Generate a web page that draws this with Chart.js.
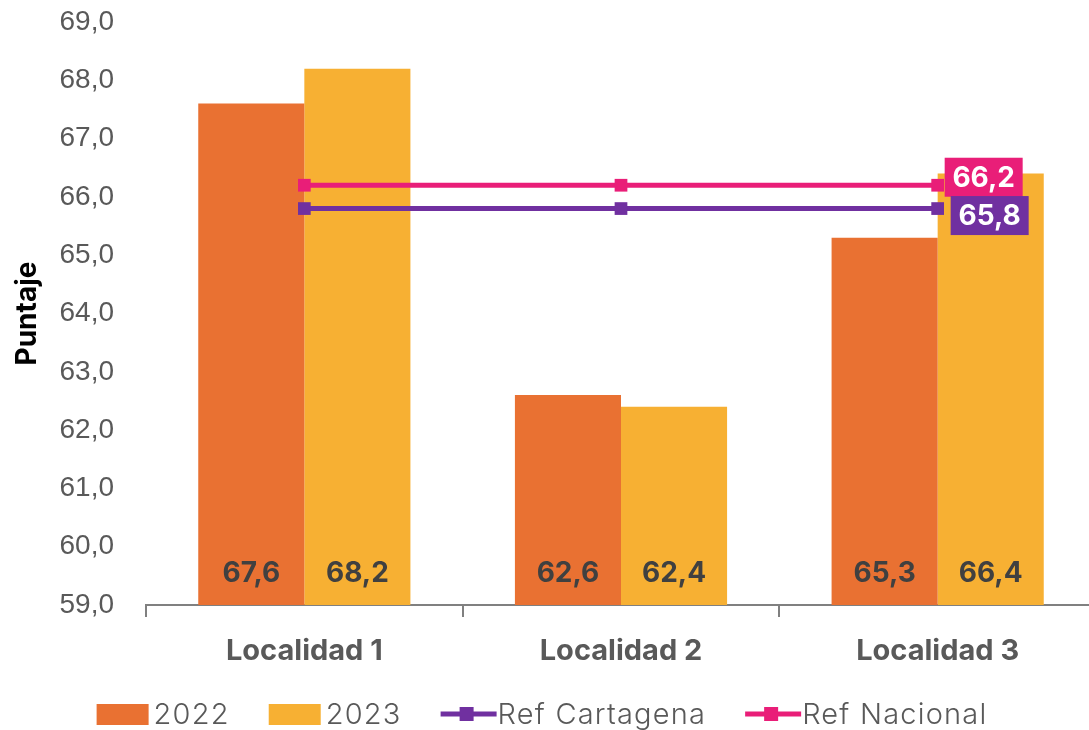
<!DOCTYPE html>
<html>
<head>
<meta charset="utf-8">
<script src="https://cdn.jsdelivr.net/npm/chart.js@4.4.0/dist/chart.umd.min.js"></script>
<style>
  html, body { margin: 0; padding: 0; background: #fff; overflow: hidden; }
  #wrap { width: 1105px; height: 730px; }
</style>
</head>
<body>
<div id="wrap"><canvas id="puntajeChart" width="1105" height="730"></canvas></div>
<script>
var categories = ['Localidad 1', 'Localidad 2', 'Localidad 3'];
var values2022 = [67.6, 62.6, 65.3];
var values2023 = [68.2, 62.4, 66.4];
var refCartagena = [65.8, 65.8, 65.8];
var refNacional = [66.2, 66.2, 66.2];
var yTicks = [59, 60, 61, 62, 63, 64, 65, 66, 67, 68, 69];

var FONT = 'Inter, "DejaVu Sans", sans-serif';
var TICKFONT = '"Liberation Sans", Arial, sans-serif';
var GRAY = '#595959';

function fmt(v){
    return v.toFixed(1).replace('.', ',');
}

// value labels: inside the bars at the bottom, boxed labels at the end of the lines
var labelPlugin = {
    id: 'labelPlugin',
    afterDatasetsDraw: function(chart){
        var ctx = chart.ctx;
        var base = chart.scales.y.getPixelForValue(59);
        ctx.save();
        ctx.font = 'bold 28px ' + FONT;
        ctx.textAlign = 'center';
        ctx.textBaseline = 'middle';
        [0, 1].forEach(function(i){
            var ds = chart.data.datasets[i];
            chart.getDatasetMeta(i).data.forEach(function(bar, j){
                ctx.fillStyle = '#404040';
                ctx.fillText(fmt(ds.data[j]), bar.x, base - 31);
            });
        });
        // line end labels
        var boxes = [
            {ds: 3, dx: 7, dy: -8},
            {ds: 2, dx: 13, dy: 7}
        ];
        boxes.forEach(function(b){
            var ds = chart.data.datasets[b.ds];
            var pts = chart.getDatasetMeta(b.ds).data;
            var pt = pts[pts.length - 1];
            var txt = fmt(ds.data[ds.data.length - 1]);
            var w = 78, h = 39;
            ctx.fillStyle = ds.borderColor;
            ctx.fillRect(pt.x + b.dx, pt.y + b.dy - h / 2, w, h);
            ctx.fillStyle = '#ffffff';
            ctx.fillText(txt, pt.x + b.dx + w / 2, pt.y + b.dy + 1);
        });
        ctx.restore();
    }
};

// legend drawn by hand so the line entries get a square marker
var legendPlugin = {
    id: 'legendPlugin',
    afterDraw: function(chart){
        var ctx = chart.ctx;
        ctx.save();
        ctx.font = '300 29px ' + FONT;
        ctx.letterSpacing = '1.2px';
        ctx.textBaseline = 'middle';
        var items = chart.data.datasets.map(function(ds){
            return {label: ds.label, color: ds.type === 'line' ? ds.borderColor : ds.backgroundColor, line: ds.type === 'line'};
        });
        var symW = 52, gap = 5, spacing = 39;
        var total = 0;
        items.forEach(function(it, i){
            it.tw = ctx.measureText(it.label).width;
            total += symW + gap + it.tw + (i < items.length - 1 ? spacing : 0);
        });
        var x = 542 - total / 2;
        var y = 714;
        items.forEach(function(it){
            if (it.line) {
                ctx.strokeStyle = it.color;
                ctx.lineWidth = 5;
                ctx.beginPath();
                ctx.moveTo(x, y);
                ctx.lineTo(x + symW + 4, y);
                ctx.stroke();
                ctx.fillStyle = it.color;
                ctx.fillRect(x + symW / 2 - 7, y - 7, 14, 14);
            } else {
                ctx.fillStyle = it.color;
                ctx.fillRect(x, y - 10, symW, 21);
            }
            ctx.fillStyle = GRAY;
            ctx.fillText(it.label, x + symW + gap, y + 1);
            x += symW + gap + it.tw + spacing;
        });
        ctx.restore();
    }
};

var chartData = {
    type: 'bar',
    data: {
        labels: categories,
        datasets: [
            {label: '2022', data: values2022, backgroundColor: '#E97132', order: 3,
             categoryPercentage: 0.67, barPercentage: 1.0},
            {label: '2023', data: values2023, backgroundColor: '#F7B033', order: 3,
             categoryPercentage: 0.67, barPercentage: 1.0},
            {label: 'Ref Cartagena', type: 'line', data: refCartagena, borderColor: '#7030A0',
             backgroundColor: '#7030A0', borderWidth: 5, pointStyle: 'rect', pointRadius: 9,
             pointBorderWidth: 0, order: 1},
            {label: 'Ref Nacional', type: 'line', data: refNacional, borderColor: '#E91E78',
             backgroundColor: '#E91E78', borderWidth: 5, pointStyle: 'rect', pointRadius: 9,
             pointBorderWidth: 0, order: 0}
        ]
    },
    options: {
        responsive: false,
        animation: false,
        layout: {padding: {top: 22, right: 3, bottom: 0, left: 0}},
        plugins: {
            legend: {display: false},
            tooltip: {enabled: false}
        },
        scales: {
            x: {
                grid: {offset: true, drawOnChartArea: false, drawTicks: true, tickLength: 12,
                       color: '#808080', lineWidth: 2},
                border: {display: true, color: '#808080', width: 2},
                ticks: {font: {family: FONT, size: 29, weight: 'bold'}, color: GRAY, padding: 17},
                afterFit: function(scale){ scale.height = 125; }
            },
            y: {
                min: 59, max: 69,
                afterBuildTicks: function(scale){
                    scale.ticks = yTicks.map(function(v){ return {value: v}; });
                },
                grid: {display: false},
                border: {display: false},
                ticks: {font: {family: TICKFONT, size: 28}, color: GRAY, padding: 24,
                        callback: function(v){ return fmt(v); }},
                title: {display: true, text: 'Puntaje', color: '#000',
                        font: {family: FONT, size: 28, weight: 'bold'}, padding: {top: 11}},
                afterFit: function(scale){
                    scale.width = 146;
                    scale.paddingTop = 0;
                    scale.paddingBottom = 0;
                }
            }
        }
    },
    plugins: [labelPlugin, legendPlugin]
};

var puntajeChart = new Chart(document.getElementById('puntajeChart').getContext('2d'), chartData);
</script>
</body>
</html>
